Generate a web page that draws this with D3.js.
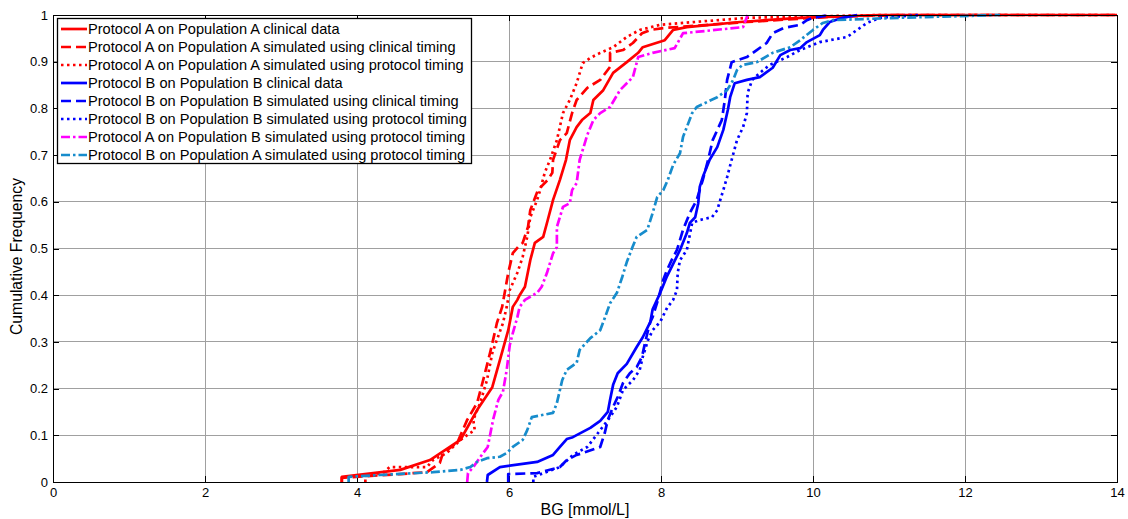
<!DOCTYPE html>
<html><head><meta charset="utf-8">
<script src="https://cdn.jsdelivr.net/npm/d3@7"></script>
<style>
html,body{margin:0;padding:0;background:#fff;}
svg{display:block;font-family:"Liberation Sans",Arial,sans-serif;}
</style></head>
<body><svg id="chart" width="1128" height="519"></svg>
<script>
// ---- data: [BG (mmol/L), cumulative frequency] ----
const seriesNames = [
  "Protocol A on Population A clinical data",
  "Protocol A on Population A simulated using clinical timing",
  "Protocol A on Population A simulated using protocol timing",
  "Protocol B on Population B clinical data",
  "Protocol B on Population B simulated using clinical timing",
  "Protocol B on Population B simulated using protocol timing",
  "Protocol A on Population B simulated using protocol timing",
  "Protocol B on Population A simulated using protocol timing"
];
const aOnAClinical = [[3.80,0],[3.80,0.011],[4.57,0.026],[4.96,0.047],[5.36,0.09],[5.58,0.154],[5.78,0.203],[5.88,0.261],[5.99,0.325],[6.05,0.375],[6.11,0.39],[6.14,0.40],[6.21,0.418],[6.28,0.475],[6.34,0.512],[6.45,0.525],[6.51,0.561],[6.58,0.604],[6.67,0.647],[6.75,0.69],[6.80,0.732],[6.89,0.76],[6.96,0.775],[7.07,0.79],[7.11,0.818],[7.24,0.839],[7.37,0.876],[7.55,0.899],[7.70,0.919],[7.76,0.931],[8.05,0.946],[8.16,0.968],[8.34,0.974],[9.04,0.985],[9.83,0.994],[10.88,1],[14,1]];
const aOnASimClinical = [[3.80,0],[3.80,0.009],[4.57,0.017],[4.92,0.021],[5.09,0.041],[5.13,0.062],[5.32,0.084],[5.45,0.133],[5.58,0.169],[5.66,0.218],[5.75,0.276],[5.82,0.325],[5.84,0.34],[5.91,0.375],[5.95,0.411],[5.99,0.448],[6.05,0.49],[6.14,0.507],[6.18,0.512],[6.25,0.546],[6.28,0.582],[6.38,0.625],[6.51,0.647],[6.57,0.662],[6.58,0.69],[6.67,0.732],[6.76,0.747],[6.83,0.79],[6.89,0.818],[7.03,0.844],[7.20,0.861],[7.33,0.889],[7.33,0.919],[7.50,0.925],[7.63,0.94],[7.75,0.961],[7.86,0.968],[8.03,0.972],[9.13,0.985],[10.22,0.996],[11.14,1],[14,1]];
const aOnASimProtocol = [[4.11,0],[4.11,0.013],[4.34,0.019],[4.43,0.032],[4.92,0.032],[5.00,0.047],[5.18,0.062],[5.36,0.09],[5.49,0.105],[5.55,0.111],[5.53,0.133],[5.62,0.169],[5.71,0.218],[5.78,0.276],[5.84,0.304],[5.92,0.34],[5.97,0.375],[6.01,0.411],[6.11,0.448],[6.18,0.482],[6.24,0.525],[6.28,0.567],[6.37,0.604],[6.41,0.625],[6.47,0.662],[6.54,0.69],[6.63,0.732],[6.71,0.79],[6.80,0.818],[6.89,0.854],[6.97,0.897],[7.07,0.908],[7.20,0.919],[7.37,0.931],[7.55,0.953],[7.72,0.968],[7.99,0.979],[9.13,0.994],[10.88,1],[14,1]];
const bOnBClinical = [[5.71,0],[5.72,0.015],[5.88,0.032],[6.37,0.043],[6.58,0.058],[6.67,0.075],[6.76,0.092],[6.84,0.096],[7.07,0.116],[7.20,0.131],[7.30,0.15],[7.33,0.176],[7.37,0.208],[7.43,0.233],[7.55,0.253],[7.68,0.289],[7.76,0.31],[7.86,0.343],[7.89,0.37],[7.99,0.405],[8.08,0.441],[8.16,0.467],[8.25,0.497],[8.34,0.533],[8.38,0.555],[8.45,0.567],[8.49,0.597],[8.51,0.632],[8.55,0.653],[8.64,0.69],[8.74,0.717],[8.82,0.754],[8.88,0.797],[8.91,0.824],[8.97,0.854],[9.13,0.861],[9.30,0.867],[9.47,0.887],[9.57,0.914],[9.70,0.925],[9.83,0.929],[9.92,0.942],[10.09,0.957],[10.13,0.968],[10.22,0.985],[10.39,0.994],[10.58,1]];
const bOnBSimClinical = [[5.99,0],[5.99,0.017],[6.37,0.019],[6.67,0.032],[6.76,0.047],[6.89,0.058],[6.97,0.062],[7.20,0.075],[7.26,0.105],[7.30,0.133],[7.37,0.161],[7.43,0.182],[7.50,0.212],[7.59,0.233],[7.68,0.246],[7.75,0.268],[7.79,0.298],[7.83,0.325],[7.86,0.343],[7.89,0.353],[7.96,0.39],[8.03,0.433],[8.08,0.454],[8.14,0.475],[8.21,0.497],[8.29,0.54],[8.38,0.576],[8.47,0.604],[8.55,0.647],[8.62,0.69],[8.68,0.732],[8.80,0.775],[8.84,0.818],[8.87,0.861],[8.93,0.899],[9.13,0.91],[9.26,0.925],[9.39,0.94],[9.47,0.961],[9.61,0.972],[9.83,0.979],[9.92,0.989],[10.00,0.994],[10.22,1]];
const bOnBSimProtocol = [[6.32,0],[6.32,0.011],[6.67,0.032],[6.84,0.058],[7.03,0.075],[7.20,0.111],[7.33,0.139],[7.42,0.161],[7.50,0.197],[7.63,0.218],[7.72,0.24],[7.76,0.268],[7.83,0.304],[7.89,0.325],[7.99,0.343],[8.08,0.373],[8.16,0.39],[8.21,0.411],[8.22,0.448],[8.25,0.475],[8.34,0.497],[8.41,0.555],[8.51,0.561],[8.67,0.567],[8.74,0.582],[8.78,0.604],[8.82,0.625],[8.87,0.653],[8.93,0.69],[9.00,0.732],[9.08,0.76],[9.13,0.79],[9.14,0.833],[9.20,0.861],[9.30,0.876],[9.43,0.893],[9.66,0.91],[9.83,0.925],[10.09,0.942],[10.45,0.953],[10.58,0.968],[10.71,0.983],[10.88,0.994],[11.41,1]];
const aOnBSimProtocol = [[5.45,0],[5.46,0.019],[5.53,0.032],[5.66,0.062],[5.72,0.075],[5.79,0.133],[5.86,0.176],[5.92,0.193],[5.97,0.24],[6.01,0.293],[6.05,0.319],[6.11,0.353],[6.14,0.375],[6.21,0.39],[6.37,0.405],[6.43,0.418],[6.50,0.448],[6.58,0.49],[6.63,0.503],[6.63,0.546],[6.71,0.589],[6.80,0.597],[6.83,0.625],[6.89,0.64],[6.93,0.69],[6.97,0.711],[7.03,0.743],[7.11,0.775],[7.20,0.79],[7.33,0.803],[7.46,0.839],[7.63,0.867],[7.70,0.91],[7.89,0.919],[8.18,0.929],[8.29,0.961],[9.08,0.974],[9.14,1]];
const bOnASimProtocol = [[3.89,0],[3.89,0.011],[4.30,0.015],[5.00,0.021],[5.36,0.026],[5.49,0.032],[5.58,0.043],[5.71,0.051],[5.88,0.054],[5.97,0.062],[6.05,0.075],[6.18,0.09],[6.24,0.111],[6.30,0.139],[6.58,0.148],[6.63,0.169],[6.70,0.218],[6.76,0.24],[6.89,0.255],[6.93,0.283],[7.07,0.308],[7.20,0.325],[7.26,0.351],[7.33,0.383],[7.42,0.405],[7.49,0.439],[7.55,0.471],[7.62,0.501],[7.68,0.525],[7.82,0.54],[7.89,0.576],[7.95,0.61],[8.03,0.625],[8.09,0.647],[8.16,0.679],[8.25,0.704],[8.29,0.739],[8.34,0.76],[8.41,0.79],[8.47,0.803],[8.61,0.814],[8.74,0.824],[8.87,0.839],[8.95,0.861],[9.00,0.882],[9.07,0.893],[9.26,0.899],[9.47,0.919],[9.70,0.931],[9.83,0.946],[10.00,0.968],[10.13,0.983],[10.26,0.989],[11.14,0.994],[12.46,1]];

const xTicks = [0,2,4,6,8,10,12,14];
const yTicks = [0,0.1,0.2,0.3,0.4,0.5,0.6,0.7,0.8,0.9,1];
const yTickLabels = ["0","0.1","0.2","0.3","0.4","0.5","0.6","0.7","0.8","0.9","1"];

// styles
const colors = ["#ff0000","#ff0000","#ff0000","#0000ff","#0000ff","#0000ff","#ff00ff","#178ccc"];
const dashes = [null,"10,5","2.5,3.5",null,"10,5","2.5,3.5","9,3,2.5,3","9,3,2.5,3"];
const seriesData = [aOnAClinical,aOnASimClinical,aOnASimProtocol,bOnBClinical,bOnBSimClinical,bOnBSimProtocol,aOnBSimProtocol,bOnASimProtocol];

const L=53, R=1117, T=15, B=482;
const svg = d3.select("#chart");
const x = d3.scaleLinear().domain([0,14]).range([L,R]);
const y = d3.scaleLinear().domain([0,1]).range([B,T]);

// grid
const grid = svg.append("g");
grid.selectAll(".gx").data(xTicks).join("line")
  .attr("x1",d=>x(d)).attr("x2",d=>x(d)).attr("y1",T).attr("y2",B)
  .attr("stroke","#a0a0a0").attr("stroke-width",1).attr("shape-rendering","crispEdges");
grid.selectAll(".gy").data(yTicks).join("line")
  .attr("x1",L).attr("x2",R).attr("y1",d=>y(d)).attr("y2",d=>y(d))
  .attr("stroke","#a0a0a0").attr("stroke-width",1).attr("shape-rendering","crispEdges");

// axes
const xAxis = d3.axisBottom(x).tickValues(xTicks).tickSize(-6).tickPadding(6).tickFormat(d3.format("d"));
const yAxis = d3.axisLeft(y).tickValues(yTicks).tickSize(-6).tickPadding(5).tickFormat((d,i)=>yTickLabels[i]);
const gx = svg.append("g").attr("transform",`translate(0,${B})`).call(xAxis);
const gy = svg.append("g").attr("transform",`translate(${L},0)`).call(yAxis);
svg.append("g").attr("transform",`translate(0,${T})`).call(d3.axisTop(x).tickValues(xTicks).tickSize(-6).tickFormat(""));
svg.append("g").attr("transform",`translate(${R},0)`).call(d3.axisRight(y).tickValues(yTicks).tickSize(-6).tickFormat(""));
svg.selectAll(".domain").remove();
svg.selectAll(".tick line").attr("stroke","#000").attr("shape-rendering","crispEdges");
svg.selectAll(".tick text").attr("font-size",13).attr("fill","#000").attr("font-family","Liberation Sans, Arial, sans-serif");

// lines
const line = d3.line().x(d=>x(d[0])).y(d=>y(d[1]));
seriesData.forEach((s,i)=>{
  svg.append("path").datum(s).attr("d",line).attr("fill","none")
    .attr("stroke",colors[i]).attr("stroke-width",2.7)
    .attr("stroke-dasharray",dashes[i]).attr("stroke-linejoin","round");
});

// box
svg.append("rect").attr("x",L).attr("y",T).attr("width",R-L).attr("height",B-T)
  .attr("fill","none").attr("stroke","#000").attr("stroke-width",1).attr("shape-rendering","crispEdges");

// axis labels
svg.append("text").attr("x",585).attr("y",515).attr("text-anchor","middle")
  .attr("font-size",16).text("BG [mmol/L]");
svg.append("text").attr("transform",`translate(22,${(T+B)/2+8}) rotate(-90)`).attr("text-anchor","middle")
  .attr("font-size",15.7).text("Cumulative Frequency");

// legend
const lg = svg.append("g");
lg.append("rect").attr("x",57.5).attr("y",18.5).attr("width",414).attr("height",145)
  .attr("fill","#fff").attr("stroke","#000").attr("stroke-width",1.3);
seriesNames.forEach((n,i)=>{
  const yy = 29 + i*18;
  lg.append("line").attr("x1",61).attr("x2",87).attr("y1",yy).attr("y2",yy)
    .attr("stroke",colors[i]).attr("stroke-width",2.7).attr("stroke-dasharray",dashes[i]);
  lg.append("text").attr("x",88).attr("y",yy).attr("dy","0.36em").attr("font-size",14.6).text(n);
});
</script></body></html>
